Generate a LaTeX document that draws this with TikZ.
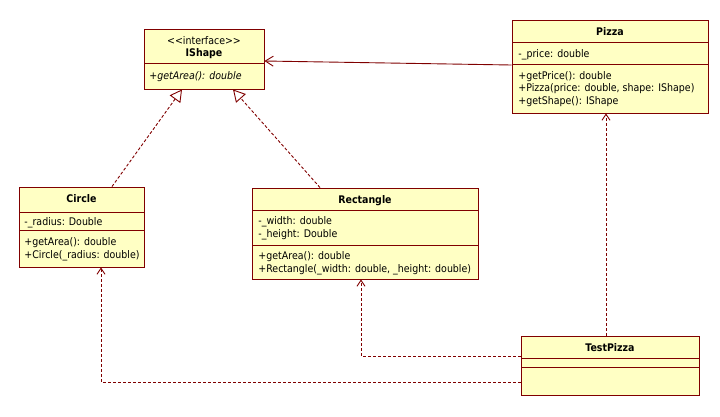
\documentclass[tikz,border=0pt]{standalone}
\usepackage{fontspec}
\setmainfont{DejaVu Sans Condensed}
\usepackage{tikz}
\usetikzlibrary{arrows.meta}
\definecolor{umlline}{RGB}{128,0,0}
\definecolor{umlfill}{RGB}{255,255,196}
\tikzset{every picture/.style={line width=0.9pt}}

\begin{document}
\begin{tikzpicture}[x=1pt,y=-1pt,
        cls/.style={draw=umlline, fill=umlfill, inner sep=0pt},
        sep/.style={draw=umlline},
        hdr/.style={anchor=base, inner sep=0pt, font=\fontsize{10.5}{12}\selectfont},
        mbr/.style={anchor=base west, inner sep=0pt, font=\fontsize{10.5}{12}\selectfont},
        realize/.style={draw=umlline, dash pattern=on 3pt off 2pt, -{Triangle[open, length=12pt, width=13pt]}},
        assoc/.style={draw=umlline, -{Straight Barb[length=8pt, width=10pt]}},
        dep/.style={draw=umlline, dash pattern=on 3pt off 2pt, -{Straight Barb[length=6pt, width=8pt]}}]
    \useasboundingbox (0,0) rectangle (720,416);

    % class boxes
    \node[cls, minimum width=120, minimum height=60] (ishape) at (204,59) {};
    \node[cls, minimum width=196, minimum height=93] (pizza) at (610,66.5) {};
    \node[cls, minimum width=125, minimum height=80] (circle) at (81.5,227) {};
    \node[cls, minimum width=226, minimum height=91] (rectangle) at (365,233.5) {};
    \node[cls, minimum width=178, minimum height=59] (testpizza) at (610,365.5) {};

    % compartments
    \draw[sep] (144,63) -- (264,63);
    \draw[sep] (512,42) -- (708,42);
    \draw[sep] (512,64) -- (708,64);
    \draw[sep] (19,212) -- (144,212);
    \draw[sep] (19,230) -- (144,230);
    \draw[sep] (252,210) -- (478,210);
    \draw[sep] (252,245) -- (478,245);
    \draw[sep] (521,358) -- (699,358);
    \draw[sep] (521,367) -- (699,367);

    % IShape
    \node[hdr] (ishape-st) at (204,44) {{<}{<}interface{>}{>}};
    \node[hdr] (ishape-nm) at (204,56) {\bfseries IShape};
    \node[mbr] (ishape-op) at (149,79) {\itshape +getArea(): double};

    % Pizza
    \node[hdr] (pizza-nm) at (610,35) {\bfseries Pizza};
    \node[mbr] (pizza-at) at (518,57) {-\_price: double};
    \node[mbr] (pizza-op1) at (518,79) {+getPrice(): double};
    \node[mbr] (pizza-op2) at (518,91.5) {+Pizza(price: double, shape: IShape)};
    \node[mbr] (pizza-op3) at (518,104) {+getShape(): IShape};

    % Circle
    \node[hdr] (circle-nm) at (81.5,202) {\bfseries Circle};
    \node[mbr] (circle-at) at (24,225) {-\_radius: Double};
    \node[mbr] (circle-op1) at (24,245) {+getArea(): double};
    \node[mbr] (circle-op2) at (24,258) {+Circle(\_radius: double)};

    % Rectangle
    \node[hdr] (rectangle-nm) at (365,203) {\bfseries Rectangle};
    \node[mbr] (rectangle-at1) at (258,224) {-\_width: double};
    \node[mbr] (rectangle-at2) at (258,237) {-\_height: Double};
    \node[mbr] (rectangle-op1) at (258,259) {+getArea(): double};
    \node[mbr] (rectangle-op2) at (258,272) {+Rectangle(\_width: double, \_height: double)};

    % TestPizza
    \node[hdr] (testpizza-nm) at (610,351) {\bfseries TestPizza};

    % relations
    \draw[realize] ([xshift=30.5pt]circle.north) -- ([xshift=-22pt]ishape.south);
    \draw[realize] ([xshift=-45pt]rectangle.north) -- ([xshift=29pt]ishape.south);
    \draw[assoc] ([yshift=1.5pt]pizza.west) -- ([yshift=-2pt]ishape.east);
    \draw[dep] ([xshift=-4pt]testpizza.north) -- ([xshift=-4pt]pizza.south);
    \draw[dep] ([yshift=9.5pt]testpizza.west) -| ([xshift=-4pt]rectangle.south);
    \draw[dep] ([yshift=-16.5pt]testpizza.west) -| ([xshift=19.5pt]circle.south);
\end{tikzpicture}
\end{document}
